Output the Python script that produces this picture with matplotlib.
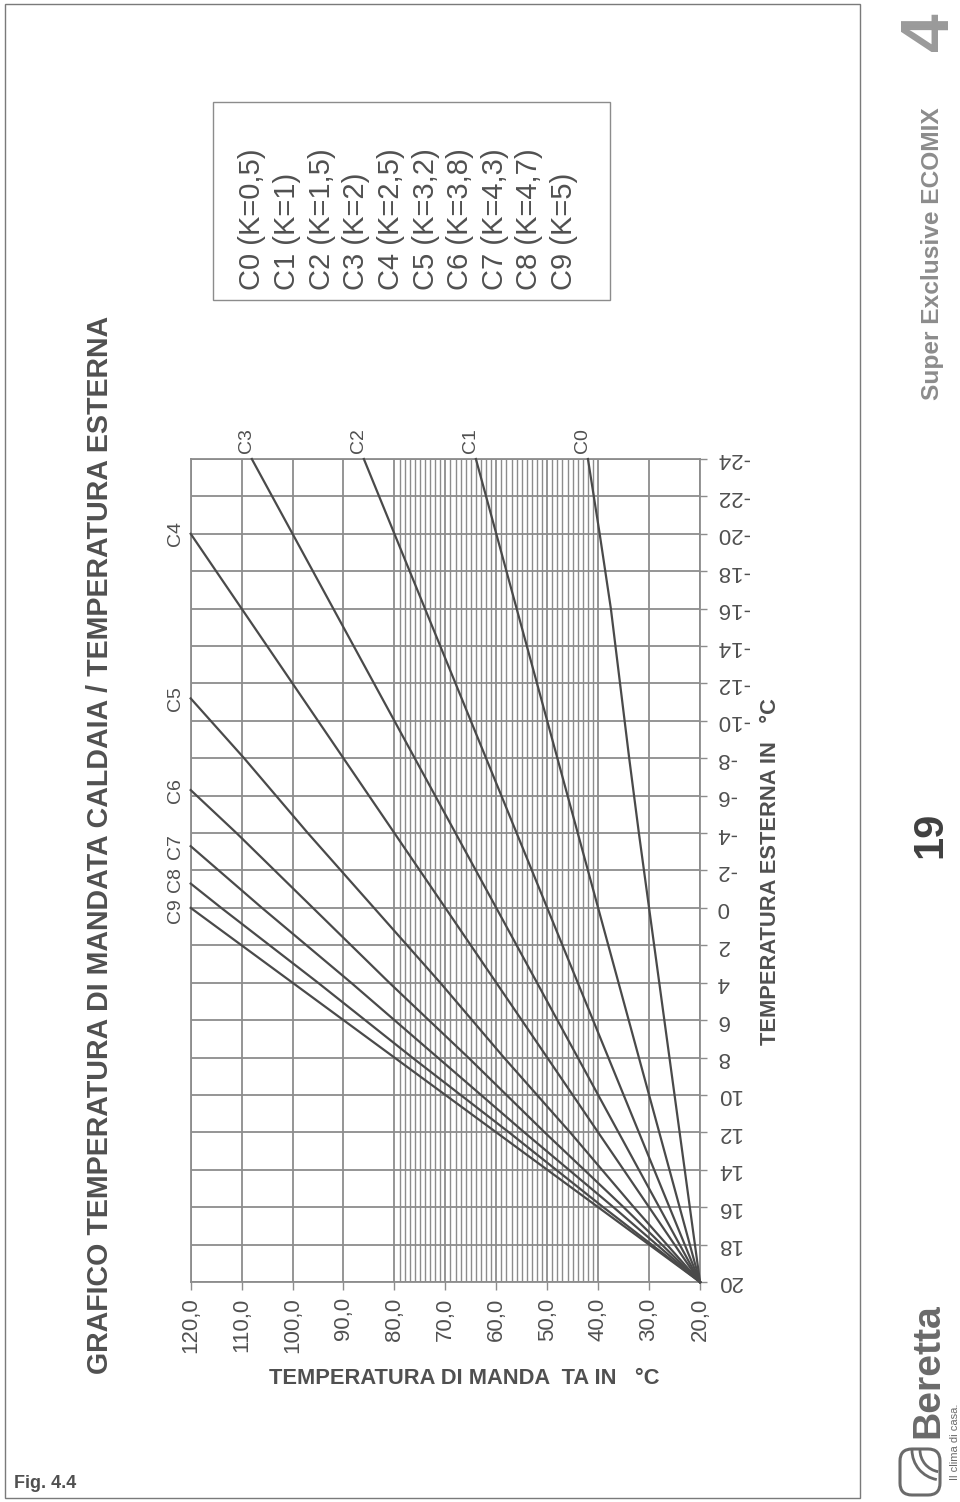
import numpy as np
import matplotlib.pyplot as plt
from matplotlib import font_manager
from matplotlib.patches import Rectangle, FancyBboxPatch, Arc

# --- dati -------------------------------------------------------------
esterna_tick = [20, 18, 16, 14, 12, 10, 8, 6, 4, 2, 0, -2, -4, -6, -8,
                -10, -12, -14, -16, -18, -20, -22, -24]
esterna_etichette = ["20", "18", "16", "14", "12", "10", "8", "6", "4",
                     "2", "0", "-2", "-4", "-6", "-8", "-10", "-12",
                     "-14", "-16", "-18", "-20", "-22", "-24"]
mandata_tick = [120, 110, 100, 90, 80, 70, 60, 50, 40, 30, 20]
mandata_etichette = ["120,0", "110,0", "100,0", "90,0", "80,0", "70,0",
                     "60,0", "50,0", "40,0", "30,0", "20,0"]

curve_nomi = ["C0", "C1", "C2", "C3", "C4", "C5", "C6", "C7", "C8", "C9"]
curve_k = ["0,5", "1", "1,5", "2", "2,5", "3,2", "3,8", "4,3", "4,7", "5"]

est_C0 = [20, 16, 12, 8, 4, 0, -4, -8, -12, -16, -20, -24]
man_C0 = [20, 22, 24, 26, 28, 30, 32, 33.9, 35.7, 37.5, 39.7, 42]
est_C1 = [20, 16, 12, 8, 4, 0, -4, -8, -12, -16, -20, -24]
man_C1 = [20, 24, 28, 32, 36, 40, 44, 48, 52, 56, 60, 64]
est_C2 = [20, 16, 12, 8, 4, 0, -4, -8, -12, -16, -20, -24]
man_C2 = [20, 26, 32, 38, 44, 50, 56, 62, 68, 74, 80, 86]
est_C3 = [20, 16, 12, 8, 4, 0, -4, -8, -12, -16, -20, -24]
man_C3 = [20, 28, 36, 44, 52, 60, 68, 76, 84, 92, 100, 108]
est_C4 = [20, 16, 12, 8, 4, 0, -4, -8, -12, -16, -20]
man_C4 = [20, 30, 40, 50, 60, 70, 80, 90, 100, 110, 120]
est_C5 = [20, 16, 12, 8, 4, 0, -4, -8, -11.2]
man_C5 = [20, 33, 45.5, 58.5, 71, 84, 97, 109.5, 120]
est_C6 = [20, 16, 12, 8, 4, 0, -4, -6.3]
man_C6 = [20, 35, 50.5, 65.5, 81, 96, 111, 120]
est_C7 = [20, 16, 12, 8, 4, 0, -3.3]
man_C7 = [20, 37, 54.5, 71.5, 88.5, 106, 120]
est_C8 = [20, 16, 12, 8, 4, 0, -1.3]
man_C8 = [20, 39, 57.5, 76.5, 95, 114, 120]
est_C9 = [20, 16, 12, 8, 4, 0]
man_C9 = [20, 40, 60, 80, 100, 120]

curve = [
    (est_C0, man_C0), (est_C1, man_C1), (est_C2, man_C2),
    (est_C3, man_C3), (est_C4, man_C4), (est_C5, man_C5),
    (est_C6, man_C6), (est_C7, man_C7), (est_C8, man_C8),
    (est_C9, man_C9),
]

# --- stile -------------------------------------------------------------
nomi_font = {f.name for f in font_manager.fontManager.ttflist}
NORMALE = "Liberation Sans"
if "Liberation Sans Narrow" in nomi_font:
    STRETTO = "Liberation Sans Narrow"
else:
    STRETTO = "Liberation Sans"

plt.rcParams["font.family"] = [NORMALE, "DejaVu Sans"]

GRIGIO_TESTO = "#505050"
GRIGIO_GRIGLIA = "#8c8c8c"
GRIGIO_CURVE = "#4a4a4a"

W, H = 960, 1502
fig = plt.figure(figsize=(W / 100, H / 100), dpi=100)


def px(x, y):
    """Pixel (origine in alto a sinistra) -> frazione di figura."""
    return x / W, 1 - y / H


def adatta(testo, lunghezza, verticale=True):
    """Scala il font per coprire la lunghezza voluta (in pixel)."""
    r = fig.canvas.get_renderer()
    bb = testo.get_window_extent(r)
    attuale = bb.height if verticale else bb.width
    testo.set_fontsize(testo.get_fontsize() * lunghezza / attuale)


# --- assi ----------------------------------------------------------------
x0, x1 = 190.7, 700.0
y0, y1 = 459.0, 1282.0
ax = fig.add_axes([x0 / W, 1 - y1 / H, (x1 - x0) / W, (y1 - y0) / H])

ax.set_xlim(120, 20)
ax.set_ylim(20, -24)

ax.set_xticks(mandata_tick)
ax.set_xticklabels(mandata_etichette, rotation=90, va="top", ha="center")
ax.set_xticks([t for t in range(41, 80) if t % 10 != 0], minor=True)
ax.yaxis.tick_right()
ax.set_yticks(esterna_tick)
ax.set_yticklabels(esterna_etichette, rotation=180, ha="left",
                   va="center")

ax.tick_params(axis="x", which="major", direction="out", length=6,
               width=1.0, color=GRIGIO_GRIGLIA, pad=5, labelsize=16,
               labelcolor=GRIGIO_TESTO)
ax.tick_params(axis="x", which="minor", length=0)
ax.tick_params(axis="y", which="major", direction="out", length=5,
               width=1.0, color=GRIGIO_GRIGLIA, pad=7, labelsize=16,
               labelcolor=GRIGIO_TESTO)

ax.grid(which="major", axis="both", color=GRIGIO_GRIGLIA, linewidth=1.3)
ax.grid(which="minor", axis="x", color=GRIGIO_GRIGLIA, linewidth=1.0)
ax.set_axisbelow(True)
for s in ax.spines.values():
    s.set_color(GRIGIO_GRIGLIA)
    s.set_linewidth(1.3)

# piccoli spostamenti per non sovrapporre le etichette C9 / C8
spost_etichetta = {"C9": 2, "C8": -3}

for (est, man), nome in zip(curve, curve_nomi):
    ax.plot(man, est, color=GRIGIO_CURVE, linewidth=1.6,
            solid_joinstyle="round", clip_on=False, zorder=3)
    if man[-1] >= 120:
        # etichetta a sinistra del riquadro
        ax.annotate(nome, xy=(120, est[-1]),
                    xytext=(-11, -spost_etichetta.get(nome, 0)),
                    textcoords="offset points", rotation=90,
                    ha="center", va="center", fontsize=14,
                    color=GRIGIO_TESTO, annotation_clip=False)
    else:
        # etichetta sopra il riquadro
        ax.annotate(nome, xy=(man[-1], est[-1]), xytext=(-4, 13),
                    textcoords="offset points", rotation=90,
                    ha="center", va="center", fontsize=14,
                    color=GRIGIO_TESTO, annotation_clip=False)

# --- titoli e assi ------------------------------------------------------
t = fig.text(*px(100, 845),
             "GRAFICO TEMPERATURA DI MANDATA CALDAIA / TEMPERATURA ESTERNA",
             rotation=90, ha="center", va="center", fontsize=22,
             fontweight="bold", family=[STRETTO, "DejaVu Sans"],
             color=GRIGIO_TESTO)
adatta(t, 1060)

t = fig.text(*px(464, 1379), "TEMPERATURA DI MANDA  TA IN   °C",
             ha="center", va="center", fontsize=18, fontweight="bold",
             family=[STRETTO, "DejaVu Sans"], color=GRIGIO_TESTO)
adatta(t, 390, verticale=False)

t = fig.text(*px(770, 872), "TEMPERATURA ESTERNA IN   °C",
             rotation=90, ha="center", va="center", fontsize=18,
             fontweight="bold", family=[STRETTO, "DejaVu Sans"],
             color=GRIGIO_TESTO)
adatta(t, 345)

# --- legenda ----------------------------------------------------------
fig.add_artist(Rectangle(px(213, 300), 397 / W, 198 / H,
                         transform=fig.transFigure, fill=False,
                         edgecolor=GRIGIO_GRIGLIA, linewidth=1.0))
for i, (nome, k) in enumerate(zip(curve_nomi, curve_k)):
    fig.text(*px(252.5 + i * 34.6, 290), f"{nome} (K={k})",
             rotation=90, ha="center", va="bottom", fontsize=21,
             color=GRIGIO_TESTO)

# --- cornice pagina ---------------------------------------------------
fig.add_artist(Rectangle(px(5, 1498), 855 / W, 1494 / H,
                         transform=fig.transFigure, fill=False,
                         edgecolor="#7a7a7a", linewidth=1.0))
fig.text(*px(14, 1483), "Fig. 4.4", ha="left", va="center",
         fontsize=13, fontweight="bold", color=GRIGIO_TESTO)

# --- fascia laterale ----------------------------------------------------
fig.text(*px(930, 32), "4", rotation=90, ha="center", va="center",
         fontsize=50, fontweight="bold", color="#9a9a9a")
t = fig.text(*px(933, 254), "Super Exclusive ECOMIX", rotation=90,
             ha="center", va="center", fontsize=20, fontweight="bold",
             family=[STRETTO, "DejaVu Sans"], color="#8c8c8c")
adatta(t, 292)
fig.text(*px(930, 835), "19", rotation=90, ha="center", va="center",
         fontsize=30, fontweight="bold", color="#404040")

t = fig.text(*px(928, 1371), "Beretta", rotation=90, ha="center",
             va="center", fontsize=26, fontweight="bold",
             color="#6a6a6a")
adatta(t, 135)
fig.text(*px(955, 1442), "Il clima di casa.", rotation=90, ha="center",
         va="center", fontsize=8, family=[STRETTO, "DejaVu Sans"],
         color="#6a6a6a")

# logo stilizzato
fig.add_artist(FancyBboxPatch((900 / 100, (H - 1495) / 100),
                              0.40, 0.46,
                              boxstyle="round,pad=0,rounding_size=0.12",
                              transform=fig.dpi_scale_trans, fill=False,
                              edgecolor="#6a6a6a", linewidth=2.2))
for r in (0.30, 0.22):
    fig.add_artist(Arc((9.42, (H - 1450) / 100), 2 * r, 2 * r,
                       theta1=180, theta2=260,
                       transform=fig.dpi_scale_trans,
                       edgecolor="#6a6a6a", linewidth=2.0))

fig.savefig("out.png", dpi=100)
